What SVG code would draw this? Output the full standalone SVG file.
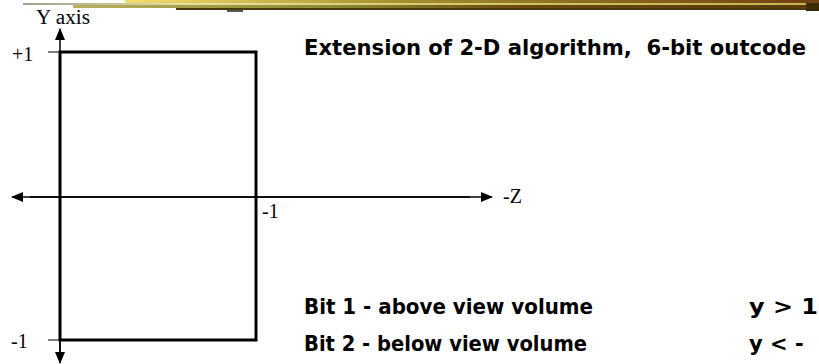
<svg xmlns="http://www.w3.org/2000/svg" width="819" height="364" viewBox="0 0 819 364">
<style>
.serif{font-family:"Liberation Serif","Times New Roman",serif;font-size:20px;fill:#000}
.comic{font-family:"DejaVu Sans","Liberation Sans",sans-serif;font-weight:bold;font-size:21px;fill:#000}
.axis{stroke:#000;stroke-width:1.5;fill:none}
.tick{stroke:#000;stroke-width:1;fill:none}
</style>
<defs>
<linearGradient id="barH" x1="0" y1="0" x2="1" y2="0">
<stop offset="0" stop-color="#b8b060"/>
<stop offset="0.35" stop-color="#8a8a30"/>
<stop offset="0.6" stop-color="#6a4a10"/>
<stop offset="1" stop-color="#5a3a08"/>
</linearGradient>
<linearGradient id="thin" x1="0" y1="0" x2="1" y2="0">
<stop offset="0" stop-color="#9aa090"/>
<stop offset="0.2" stop-color="#e8e0a0"/>
<stop offset="0.5" stop-color="#d8c870"/>
<stop offset="1" stop-color="#c8b050"/>
</linearGradient>
<linearGradient id="gold" x1="0" y1="0" x2="1" y2="0">
<stop offset="0" stop-color="#f0e070"/>
<stop offset="0.4" stop-color="#a09030"/>
<stop offset="1" stop-color="#704010"/>
</linearGradient>
<marker id="arr" viewBox="0 0 12 12" refX="11" refY="6" markerWidth="12" markerHeight="12" markerUnits="userSpaceOnUse" orient="auto">
<path d="M0,1 L12,6 L0,11 Z" fill="#000"/>
</marker>
</defs>

<g id="top-bar">
<rect x="125" y="0" width="694" height="3" fill="url(#gold)"/>
<rect x="23" y="3" width="796" height="2" fill="url(#thin)"/>
<rect x="73" y="5" width="746" height="3" fill="url(#barH)"/>
<rect x="176" y="8" width="643" height="2" fill="#4a3a10"/>
<rect x="227" y="10" width="16" height="2" fill="#506050"/>
<rect x="806" y="3" width="13" height="8" fill="#3a2a08"/>
</g>

<g id="connectors">
<line class="axis" x1="60" y1="352" x2="60" y2="29" marker-end="url(#arr)"/>
<line class="axis" x1="60" y1="60" x2="60" y2="363" marker-end="url(#arr)"/>
<line class="axis" x1="30" y1="197" x2="492" y2="197" marker-end="url(#arr)"/>
<line class="axis" x1="470" y1="197" x2="12" y2="197" marker-end="url(#arr)"/>
<line class="tick" x1="48" y1="52" x2="60" y2="52"/>
<line class="tick" x1="48" y1="340" x2="60" y2="340"/>
</g>

<g id="view-volume">
<rect x="60" y="52" width="196" height="288" fill="none" stroke="#000" stroke-width="3"/>
</g>

<g id="labels">
<text class="serif" x="36" y="24" textLength="54" lengthAdjust="spacingAndGlyphs">Y axis</text>
<text class="serif" x="12" y="61">+1</text>
<text class="serif" x="11" y="348">-1</text>
<text class="serif" x="262" y="218">-1</text>
<text class="serif" x="503" y="203">-Z</text>
</g>

<g id="title">
<text class="comic" x="304" y="55" textLength="502" lengthAdjust="spacingAndGlyphs" xml:space="preserve">Extension of 2-D algorithm,  6-bit outcode</text>
</g>

<g id="bit1">
<text class="comic" x="304" y="314" textLength="289" lengthAdjust="spacingAndGlyphs">Bit 1 - above view volume</text>
<text class="comic" x="749" y="314" textLength="69" lengthAdjust="spacingAndGlyphs">y &gt; 1</text>
</g>
<g id="bit2">
<text class="comic" x="304" y="351" textLength="283" lengthAdjust="spacingAndGlyphs">Bit 2 - below view volume</text>
<text class="comic" x="749" y="351">y &lt; -</text>
</g>
</svg>
